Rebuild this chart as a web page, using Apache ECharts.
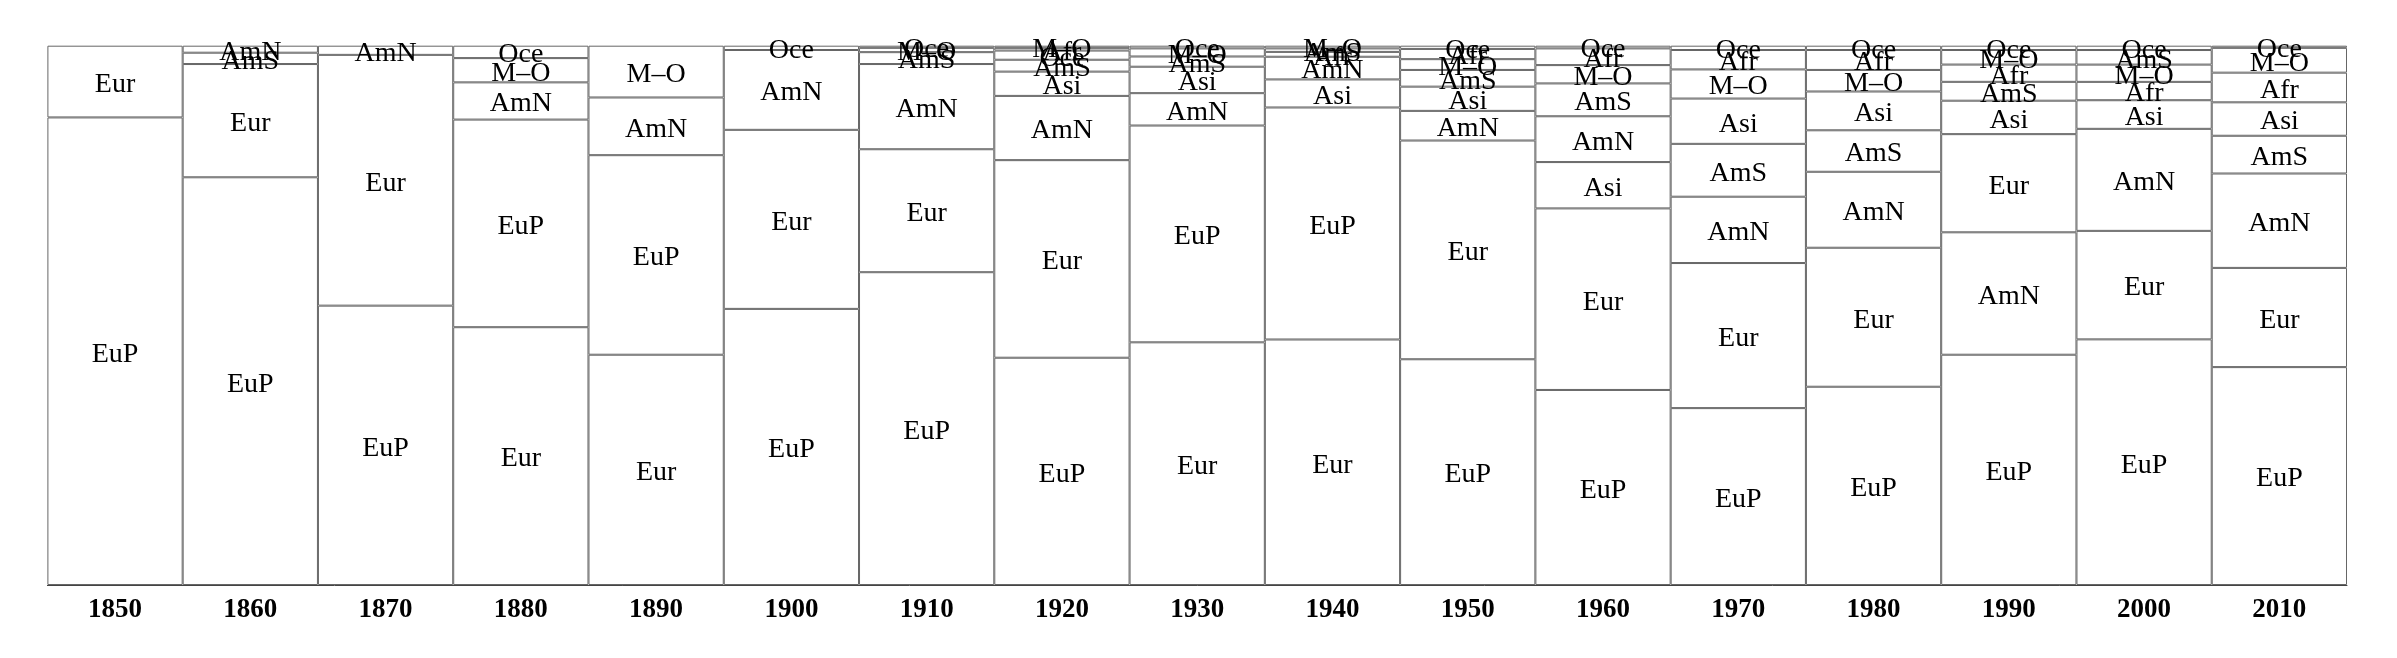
<!DOCTYPE html>
<html>
<head>
<meta charset="utf-8">
<script src="https://cdn.jsdelivr.net/npm/echarts@6/dist/echarts.min.js"></script>
<style>
  html, body { margin: 0; padding: 0; background: #ffffff; }
  #chart { width: 2397px; height: 658px; }
</style>
</head>
<body>
<div id="chart"></div>
<script>
// ---- data (percent of each decade column) ----
const years = ['1850','1860','1870','1880','1890','1900','1910','1920','1930','1940','1950','1960','1970','1980','1990','2000','2010'];
const regionNames = ['EuP','Eur','AmN','AmS','Asi','Afr','M–O','Oce'];
const EuP = [86.7, 75.6, 51.8, 38.5, 37.0, 51.2, 58.0, 42.1, 40.2, 43.0, 41.9, 36.2, 32.8, 36.8, 42.7, 45.5, 40.4];
const Eur = [13.3, 21.0, 46.5, 47.8, 42.7, 33.2, 22.8, 36.6, 45.0, 45.5, 40.6, 33.7, 26.9, 25.8, 18.2, 20.1, 18.4];
const AmN = [0, 1.3, 1.7, 6.9, 10.7, 14.8, 15.8, 11.9, 6.0, 4.2, 5.5, 8.5, 12.3, 14.1, 22.7, 18.9, 17.5];
const AmS = [0, 2.1, 0, 0, 0, 0, 2.2, 2.2, 1.9, 0.65, 3.1, 6.1, 9.8, 7.7, 3.5, 2.7, 7.0];
const Asi = [0, 0, 0, 0, 0, 0, 0, 4.5, 4.9, 5.2, 4.5, 8.6, 8.4, 7.2, 6.2, 5.3, 6.2];
const Afr = [0, 0, 0, 0, 0, 0, 0, 0.5, 0, 0.9, 1.9, 3.1, 3.6, 3.7, 3.2, 3.4, 5.5];
const MO  = [0, 0, 0, 4.5, 9.6, 0, 0.8, 0.4, 1.5, 0.5, 2.0, 3.4, 5.4, 4.0, 2.7, 3.2, 4.6];
const Oce = [0, 0, 0, 2.3, 0, 0.8, 0.4, 1.7, 0.5, 0, 0.6, 0.5, 0.8, 0.8, 0.8, 0.8, 0.4];

const regionValues = [EuP, Eur, AmN, AmS, Asi, Afr, MO, Oce];

// ---- build stacked series: in every column, the largest share sits at the bottom ----
const sortedCols = years.map((y, c) => {
  const items = regionNames.map((n, r) => ({ name: n, v: regionValues[r][c] }))
    .filter(d => d.v > 0);
  const total = items.reduce((s, d) => s + d.v, 0);
  items.forEach(d => { d.p = d.v / total * 100; });
  items.sort((a, b) => b.v - a.v);
  return items;
});
const maxRank = Math.max(...sortedCols.map(c => c.length));

const fontFam = "'Liberation Serif', 'Times New Roman', Times, serif";
const series = [];
for (let r = 0; r < maxRank; r++) {
  series.push({
    type: 'bar',
    stack: 'all',
    barCategoryGap: '0%',
    silent: true,
    data: sortedCols.map(col => col[r] ? { value: col[r].p, region: col[r].name } : '-'),
    itemStyle: { color: '#ffffff', borderColor: '#666666', borderWidth: 1 },
    label: {
      show: true,
      position: 'inside',
      offset: [0, 3],
      color: '#000000',
      fontFamily: fontFam,
      fontSize: 28,
      formatter: p => p.data.region
    }
  });
}

const chart = echarts.init(document.getElementById('chart'), null, { renderer: 'canvas' });
chart.setOption({
  animation: false,
  backgroundColor: '#ffffff',
  grid: { left: 47.4, right: 50, top: 45.7, bottom: 73, containLabel: false },
  xAxis: {
    type: 'category',
    data: years,
    axisTick: { show: false },
    axisLine: { show: true, lineStyle: { color: '#444444', width: 1 } },
    axisLabel: { color: '#000000', fontFamily: fontFam, fontWeight: 'bold', fontSize: 27, margin: 12 },
    splitLine: { show: false }
  },
  yAxis: {
    type: 'value',
    min: 0,
    max: 100,
    show: false,
    splitLine: { show: false }
  },
  series: series
});
</script>
</body>
</html>
